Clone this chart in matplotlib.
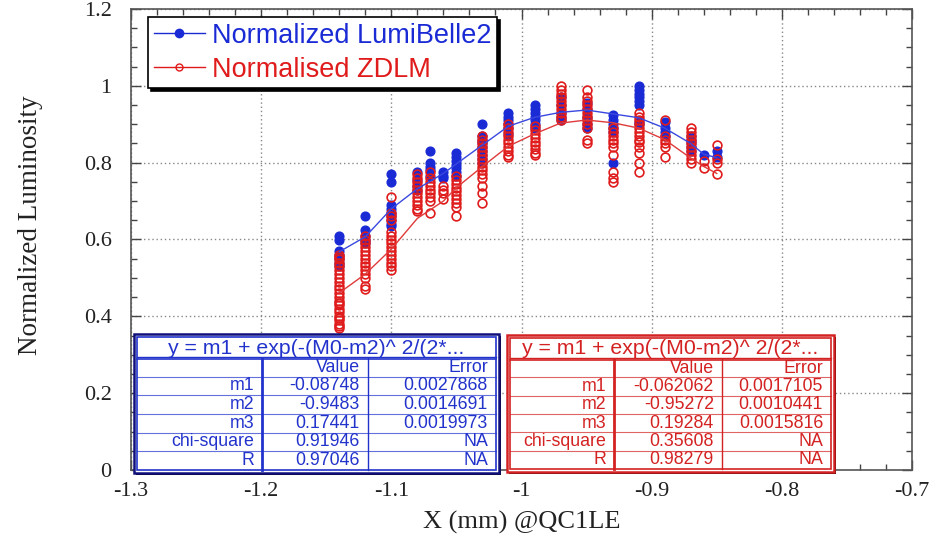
import numpy as np
import matplotlib
matplotlib.use('Agg')
import matplotlib.pyplot as plt
from matplotlib.lines import Line2D
from matplotlib.patches import Rectangle
from matplotlib.ticker import MultipleLocator

# cluster positions along X (mm)
cluster_x = [-1.14, -1.12, -1.10, -1.08, -1.07, -1.06, -1.05, -1.03, -1.01,
             -0.99, -0.97, -0.95, -0.93, -0.91, -0.89, -0.87, -0.86, -0.85]

lumibelle_y = [
    [0.61, 0.60, 0.57, 0.56, 0.55, 0.54, 0.53],
    [0.66, 0.625, 0.61, 0.60, 0.59],
    [0.77, 0.75, 0.69, 0.68, 0.67, 0.66, 0.65, 0.64, 0.635],
    [0.775, 0.755, 0.74, 0.73],
    [0.83, 0.80, 0.79, 0.78, 0.765],
    [0.775, 0.765, 0.76],
    [0.825, 0.815, 0.805, 0.795, 0.785, 0.775, 0.765],
    [0.90, 0.87, 0.86, 0.85, 0.84, 0.83, 0.82, 0.81, 0.80],
    [0.93, 0.92, 0.91, 0.90, 0.89, 0.875],
    [0.95, 0.94, 0.93, 0.92, 0.91, 0.90, 0.89],
    [0.97, 0.95, 0.93, 0.92, 0.91],
    [0.955, 0.94, 0.92, 0.90, 0.89],
    [0.925, 0.91, 0.90, 0.89, 0.88, 0.80],
    [1.0, 0.99, 0.98, 0.97, 0.96, 0.95, 0.905, 0.90],
    [0.905, 0.89, 0.88, 0.87],
    [0.87, 0.86, 0.85, 0.84, 0.83],
    [0.82],
    [0.83, 0.815],
]

zdlm_y = [
    [0.56, 0.555, 0.55, 0.54, 0.53, 0.52, 0.51, 0.50, 0.49, 0.48, 0.47, 0.46, 0.45,
     0.44, 0.435, 0.43, 0.42, 0.41, 0.40, 0.395, 0.39, 0.38, 0.375, 0.37],
    [0.61, 0.60, 0.59, 0.58, 0.57, 0.56, 0.55, 0.54, 0.53, 0.52, 0.51, 0.50, 0.48, 0.47],
    [0.71, 0.67, 0.66, 0.65, 0.62, 0.61, 0.60, 0.59, 0.58, 0.57, 0.56, 0.55, 0.54, 0.53, 0.52],
    [0.77, 0.76, 0.75, 0.74, 0.73, 0.72, 0.71, 0.70, 0.69, 0.68, 0.675],
    [0.775, 0.76, 0.75, 0.74, 0.73, 0.72, 0.71, 0.70, 0.67],
    [0.74, 0.73, 0.72, 0.705],
    [0.765, 0.755, 0.745, 0.735, 0.725, 0.715, 0.705, 0.695, 0.685, 0.66],
    [0.87, 0.86, 0.85, 0.84, 0.83, 0.82, 0.81, 0.80, 0.79, 0.78, 0.77, 0.76, 0.74, 0.72, 0.695],
    [0.90, 0.89, 0.88, 0.87, 0.86, 0.85, 0.84, 0.83, 0.82, 0.815],
    [0.895, 0.885, 0.875, 0.865, 0.855, 0.845, 0.835, 0.825, 0.82],
    [1.0, 0.99, 0.98, 0.97, 0.96, 0.95, 0.94, 0.93, 0.92, 0.91],
    [0.99, 0.97, 0.96, 0.95, 0.94, 0.93, 0.92, 0.91, 0.90, 0.89, 0.86, 0.85],
    [0.89, 0.88, 0.87, 0.86, 0.85, 0.84, 0.82, 0.775, 0.76, 0.75],
    [0.93, 0.92, 0.91, 0.90, 0.89, 0.88, 0.87, 0.86, 0.855, 0.84, 0.825, 0.80, 0.775],
    [0.91, 0.87, 0.86, 0.85, 0.84, 0.815],
    [0.89, 0.88, 0.87, 0.86, 0.85, 0.84, 0.83, 0.82, 0.81, 0.80],
    [0.805, 0.785],
    [0.845, 0.81, 0.80, 0.77],
]

# fitted curves
fit_x = [-1.14, -1.12, -1.10, -1.08, -1.06, -1.05, -1.03, -1.01, -0.99,
         -0.97, -0.95, -0.93, -0.91, -0.89, -0.87, -0.86, -0.85]
fit_lumibelle = [0.568, 0.607, 0.68, 0.732, 0.772, 0.797, 0.846, 0.895, 0.918,
                 0.931, 0.937, 0.927, 0.917, 0.89, 0.85, 0.822, 0.813]
fit_zdlm = [0.461, 0.51, 0.575, 0.655, 0.70, 0.735, 0.79, 0.843, 0.875,
            0.903, 0.911, 0.904, 0.89, 0.86, 0.812, 0.79, 0.772]

# fit tables
title_txt = "y = m1 + exp(-(M0-m2)^ 2/(2*..."
row_names = ["m1", "m2", "m3", "chi-square", "R"]
lumibelle_val = ["-0.08748", "-0.9483", "0.17441", "0.91946", "0.97046"]
lumibelle_err = ["0.0027868", "0.0014691", "0.0019973", "NA", "NA"]
zdlm_val = ["-0.062062", "-0.95272", "0.19284", "0.35608", "0.98279"]
zdlm_err = ["0.0017105", "0.0010441", "0.0015816", "NA", "NA"]

blue = '#1a2bd6'
red = '#e01b1b'
serif = 'Liberation Serif'
sans = 'Liberation Sans'

fig = plt.figure(figsize=(9.35, 5.4), dpi=100)
ax = fig.add_axes([131 / 935, 70 / 540, 781 / 935, 461 / 540])

bx = np.concatenate([[x] * len(v) for x, v in zip(cluster_x, lumibelle_y)])
by = np.concatenate(lumibelle_y)
rx = np.concatenate([[x] * len(v) for x, v in zip(cluster_x, zdlm_y)])
ry = np.concatenate(zdlm_y)

ax.plot(fit_x, fit_lumibelle, '-', color='#3a48e0', lw=1, zorder=3)
ax.plot(fit_x, fit_zdlm, '-', color='#e03a3a', lw=1, zorder=3)
ax.plot(bx, by, 'o', color=blue, ms=6.3, mec=blue, zorder=2, ls='none')
ax.plot(rx, ry, 'o', mfc='none', mec=red, ms=6.3, mew=1.2, zorder=2.5, ls='none')

ax.set_xlim(-1.3, -0.7)
ax.set_ylim(0, 1.2)
ax.xaxis.set_major_locator(MultipleLocator(0.1))
ax.xaxis.set_minor_locator(MultipleLocator(0.02))
ax.yaxis.set_major_locator(MultipleLocator(0.2))
ax.yaxis.set_minor_locator(MultipleLocator(0.05))
ax.xaxis.set_major_formatter(plt.FuncFormatter(lambda v, p: ('%g' % round(v, 2))))
ax.yaxis.set_major_formatter(plt.FuncFormatter(lambda v, p: ('%g' % round(v, 2))))
ax.tick_params(which='both', direction='in', top=True, right=True, colors='#444444')
ax.tick_params(which='major', length=7, width=1)
ax.tick_params(which='minor', length=4, width=1)
ax.tick_params(axis='x', pad=9, labelsize=16, labelcolor='#222222')
ax.tick_params(axis='y', pad=14, labelsize=16, labelcolor='#222222')
for lab in ax.get_xticklabels() + ax.get_yticklabels():
    lab.set_family(serif)
for sp in ax.spines.values():
    sp.set_color('#555555')
    sp.set_linewidth(1.2)
ax.grid(True, which='major', ls=(0, (1, 2)), color='#888888', lw=1)

ax.set_xlabel('X (mm) @QC1LE', family=serif, fontsize=19, color='#222222', va='center')
ax.xaxis.set_label_coords(0.5, -0.113)
ax.set_ylabel('Normalized Luminosity', family=serif, fontsize=19.5, color='#222222', va='center')
ax.yaxis.set_label_coords(-0.129, 0.53)

handles = [Line2D([], [], color=blue, marker='o', ms=6, lw=1),
           Line2D([], [], color=red, marker='o', mfc='none', ms=5, lw=1)]
leg = ax.legend(handles, ['Normalized LumiBelle2', 'Normalised ZDLM'],
                loc='upper left', bbox_to_anchor=(0.022, 0.982), borderaxespad=0,
                prop={'family': sans, 'size': 19.5}, labelcolor=[blue, red],
                handlelength=1.9, handletextpad=0.25, labelspacing=0.3,
                borderpad=0.2, fancybox=False, framealpha=1,
                shadow={'color': 'black', 'alpha': 1})
leg.get_frame().set_edgecolor('black')
leg.get_frame().set_linewidth(1.2)
leg.set_zorder(10)

# overlay in pixel coordinates for the fit tables
ov = fig.add_axes([0, 0, 1, 1], zorder=20)
ov.set_xlim(0, 935)
ov.set_ylim(540, 0)
ov.axis('off')


def draw_table(x0, y0, x1, y1, c1, c2, col, edge_dark, vals, errs):
    ov.add_patch(Rectangle((x0 + 2, y0 + 2), x1 - x0, y1 - y0, fc='black', ec='none'))
    ov.add_patch(Rectangle((x0, y0), x1 - x0, y1 - y0, fc='white', ec=edge_dark, lw=1.8))
    ix0, iy0, ix1, iy1 = x0 + 3, y0 + 3, x1 - 3, y1 - 3
    ov.add_patch(Rectangle((ix0, iy0), ix1 - ix0, iy1 - iy0, fc='none', ec=col, lw=1.2))
    row_top = iy0 + 21
    ov.plot([ix0, ix1], [row_top - 1, row_top - 1], color=col, lw=1)
    ov.plot([ix0, ix1], [row_top + 1, row_top + 1], color=col, lw=1.2)
    ov.text((ix0 + ix1) / 2, iy0 + 11, title_txt, color=col, family=sans,
            fontsize=15.3, ha='center', va='center')
    rh = (iy1 - row_top) / 6
    for i in range(1, 6):
        yy = row_top + i * rh
        ov.plot([ix0, ix1], [yy, yy], color=col, lw=0.8, alpha=0.7)
    ov.plot([c1, c1], [row_top, iy1], color=col, lw=2)
    ov.plot([c2, c2], [row_top, iy1], color=col, lw=1)
    ov.text(c2 - 8, row_top + rh / 2, 'Value', color=col, family=sans, fontsize=12.8,
            ha='right', va='center')
    ov.text(ix1 - 8, row_top + rh / 2, 'Error', color=col, family=sans, fontsize=12.8,
            ha='right', va='center')
    for i, (nm, v, e) in enumerate(zip(row_names, vals, errs)):
        yc = row_top + (i + 1.5) * rh
        ov.text(c1 - 8, yc, nm, color=col, family=sans, fontsize=12.8, ha='right', va='center')
        ov.text(c2 - 8, yc, v, color=col, family=sans, fontsize=12.8, ha='right', va='center')
        ov.text(ix1 - 8, yc, e, color=col, family=sans, fontsize=12.8, ha='right', va='center')


draw_table(134, 334, 499, 473, 262, 368, '#2233cc', '#10107a', lumibelle_val, lumibelle_err)
draw_table(507, 335, 834, 472, 614, 722, '#d42222', '#d42222', zdlm_val, zdlm_err)

fig.savefig('out.png', dpi=100)
